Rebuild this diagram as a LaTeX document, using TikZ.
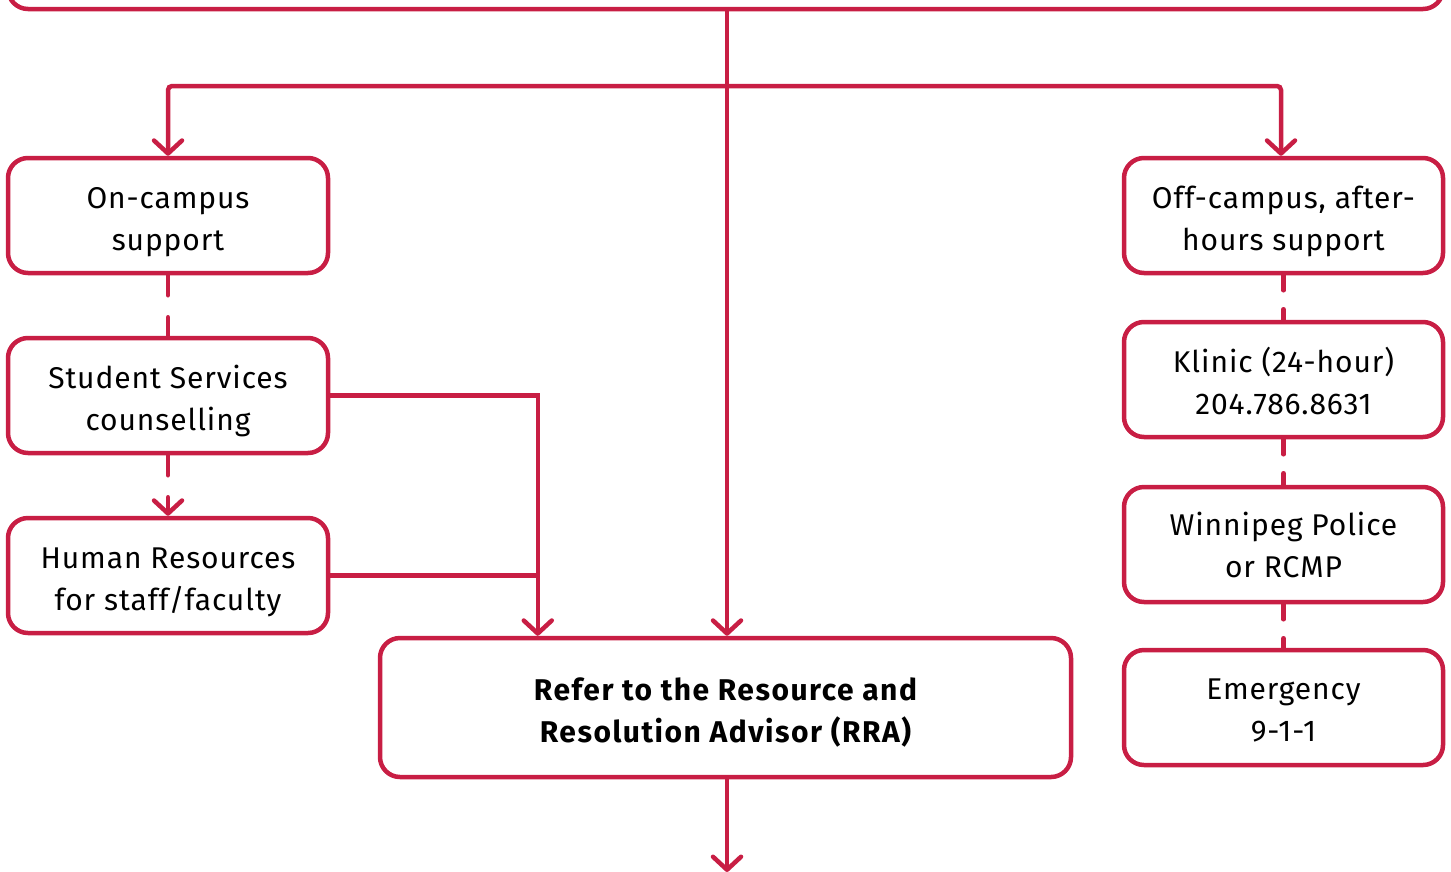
\documentclass[tikz,border=0pt]{standalone}
\usepackage{fontspec}
\setmainfont{Fira Sans}[LetterSpace=3]
\usetikzlibrary{arrows.meta,calc}
\definecolor{crim}{RGB}{200,30,68}
\newcommand{\tx}[2][5pt]{\raisebox{-#1}[\height][\depth]{\begin{tabular}{@{}c@{}}#2\end{tabular}}}
\begin{document}
\begin{tikzpicture}[x=1pt,y=-1pt,
  box/.style={draw=crim,line width=4.5pt,rounded corners=20pt,align=center,
    font=\fontsize{30}{42}\selectfont,inner sep=0pt},
  sbox/.style={box,minimum width=320pt,minimum height=115pt},
  arr/.style={draw=crim,line width=4.5pt,-{Straight Barb[length=13pt,width=28pt,round]}},
  conn/.style={draw=crim,line width=4.5pt},
  dsh/.style={draw=crim,line width=4.5pt,line cap=round,dash pattern=on 20pt off 22pt},
  rdsh/.style={draw=crim,line width=4.5pt,line cap=round,dash pattern=on 15pt off 19pt}]
\useasboundingbox (0,0) rectangle (1451,871);
\begin{scope}
\clip (0,0) rectangle (1451,871);
\node[box,minimum width=1435pt,minimum height=100pt] (top) at (725.5,-41) {};
\node[sbox] (on) at (168,215.5) {\tx[6pt]{On-campus\\support}};
\node[sbox] (ss) at (168,395.5) {\tx[6pt]{Student Services\\counselling}};
\node[sbox] (hr) at (168,575.5) {\tx[6pt]{Human Resources\\for staff/faculty}};
\node[sbox,minimum width=319pt] (off) at (1283.5,215.5) {\tx[6pt]{Off-campus, after-\\hours support}};
\node[sbox,minimum width=319pt] (kl) at (1283.5,379.5) {\tx[6pt]{Klinic (24-hour)\\204.786.8631}};
\node[sbox,minimum width=319pt] (wp) at (1283.5,544.5) {\tx[4pt]{Winnipeg Police\\or RCMP}};
\node[sbox,minimum width=319pt] (em) at (1283.5,707.5) {\tx[5pt]{Emergency\\9-1-1}};
\node[box,minimum width=691pt,minimum height=139pt,font=\fontsize{30}{42}\selectfont\bfseries\addfontfeature{LetterSpace=5}] (rra) at (725.5,707.5) {\tx[6pt]{Refer to the Resource and\\Resolution Advisor (RRA)}};
\coordinate (hub) at (727,86);
\coordinate (join) at ([xshift=160pt]rra.north west);
\coordinate (out) at (727,872);
\draw[arr] (top.south -| hub) -- (rra.north -| hub);
\draw[arr,rounded corners=4pt] (hub) -| (on.north);
\draw[arr,rounded corners=4pt] (hub) -| ([xshift=-2.5pt]off.north);
\draw[arr] (ss.east) -| (join);
\draw[conn] (hr.east) -- (hr.east -| join);
\draw[arr] (rra.south -| out) -- (out);
\draw[dsh] (on.south) -- (ss.north);
\draw[dsh,-{Straight Barb[length=13pt,width=28pt,round]}] (ss.south) -- (hr.north);
\draw[rdsh] (off.south) -- (kl.north);
\draw[rdsh] (kl.south) -- (wp.north);
\draw[rdsh] (wp.south) -- (em.north);
\end{scope}
\end{tikzpicture}
\end{document}
